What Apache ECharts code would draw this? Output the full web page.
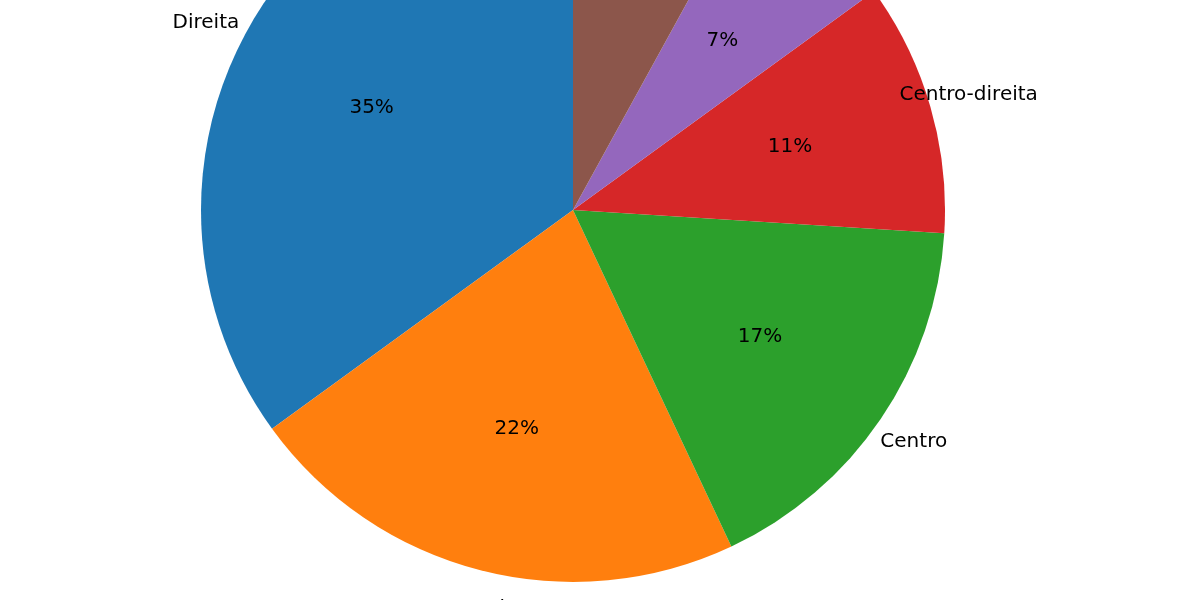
<!DOCTYPE html>
<html><head><meta charset="utf-8">
<script src="https://cdn.jsdelivr.net/npm/echarts@6/dist/echarts.min.js"></script>
<style>html,body{margin:0;padding:0;background:#fff}#c{width:1200px;height:600px}</style>
</head><body><div id="c"></div>
<script>
const categories = ['Direita','Esquerda','Centro','Centro-direita','Extrema-direita','Extrema-esquerda'];
const values = [35,22,17,11,7,8];
const colors = ['#1f77b4','#ff7f0e','#2ca02c','#d62728','#9467bd','#8c564b'];
const chart = echarts.init(document.getElementById('c'));
const total = values.reduce((a,b)=>a+b,0);
let acc = 0;
const aligns = values.map(v=>{const mid=90+(acc+v/2)/total*360; acc+=v; const c=Math.cos(mid*Math.PI/180); return c>0.01?'left':(c<-0.01?'right':'center');});
const font = {fontFamily:'DejaVu Sans', fontSize:20, color:'#000'};
const base = {type:'pie', center:[573,210], startAngle:90, clockwise:false, silent:true, animation:false, labelLine:{show:false}};
chart.setOption({
  series:[
    Object.assign({}, base, {radius:[0,372], label:{show:false},
      data: categories.map((n,i)=>({name:n, value:values[i], itemStyle:{color:colors[i]}}))}),
    Object.assign({}, base, {radius:[218,228], itemStyle:{color:'rgba(0,0,0,0)'},
      label:Object.assign({show:true, position:'inside', formatter:p=>Math.round(p.value/total*100)+'%'}, font),
      data: categories.map((n,i)=>({name:n, value:values[i]}))}),
    Object.assign({}, base, {radius:[404,414], itemStyle:{color:'rgba(0,0,0,0)'},
      label:Object.assign({show:true, position:'inside', formatter:'{b}'}, font),
      data: categories.map((n,i)=>({name:n, value:values[i], label:{align:aligns[i]}}))})
  ]
});
</script></body></html>
